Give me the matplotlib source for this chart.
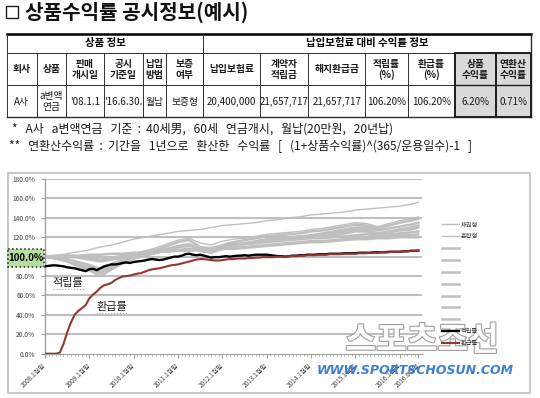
import matplotlib
matplotlib.use('Agg')
import matplotlib.pyplot as plt
from matplotlib.patches import Rectangle
import matplotlib.patheffects as pe

plt.rcParams['font.family'] = ['Noto Sans CJK KR', 'DejaVu Sans']

# ---------------- data ----------------
title = "상품수익률 공시정보(예시)"
group_headers = ["상품 정보", "납입보험료 대비 수익률 정보"]
col_headers = ["회사", "상품", "판매\n개시일", "공시\n기준일", "납입\n방법", "보증\n여부",
               "납입보험료", "계약자\n적립금", "해지환급금", "적립률\n(%)", "환급률\n(%)",
               "상품\n수익률", "연환산\n수익률"]
row_values = ["A사", "a변액\n연금", "'08.1.1", "'16.6.30.", "월납", "보증형",
              "20,400,000", "21,657,717", "21,657,717", "106.20%", "106.20%",
              "6.20%", "0.71%"]
footnotes = ["*   A사   a변액연금   기준  :  40세男,   60세   연금개시,   월납(20만원,   20년납)",
             "**   연환산수익률  :  기간을   1년으로   환산한   수익률   [   (1+상품수익률)^(365/운용일수)-1   ]"]

tick_months = [0, 12, 24, 36, 48, 60, 72, 84, 96, 101]
tick_labels = ["2008.1월말", "2009.1월말", "2010.1월말", "2011.1월말", "2012.1월말",
               "2013.1월말", "2014.1월말", "2015.1월말", "2016.1월말", "2016.6월말"]
y_ticks = [0, 20, 40, 60, 80, 100, 120, 140, 160, 180]

months = list(range(102))
accum_rate = [90, 90.5, 91, 91, 90.5, 90, 89, 88.5, 88, 87,
              86, 85, 87, 87.5, 86, 88, 90, 91, 92, 92,
              92.5, 93.5, 94, 93.5, 94.5, 95, 95.5, 96, 97, 97.5,
              97, 96.5, 97, 98, 99, 100, 100, 101, 102.5, 103,
              102, 101.5, 102, 101, 100, 99, 99.5, 99.5, 100, 100.5,
              100, 100.5, 101, 101, 101.5, 101, 101.5, 102, 102, 102,
              102, 101.5, 101, 100.5, 100.5, 100, 100.5, 101, 101, 101.5,
              101.5, 102, 102, 102, 102.5, 102.5, 102.5, 103, 103, 103,
              103, 103.5, 103.5, 103.5, 103.5, 104, 104, 104, 104, 104.5,
              104.5, 104.5, 104.5, 105, 105, 105, 105, 105.5, 105.5, 106,
              106, 106.2]
refund_rate = [0, 0, 0, 0, 1, 10, 22, 32, 40, 44,
               47, 50, 57, 61, 64, 68, 70.5, 71.5, 73, 76,
               78, 79.5, 80, 80.5, 81.5, 82.5, 83, 84.5, 86, 87,
               87.5, 88, 89, 90, 91, 91.5, 92, 93, 94, 95,
               96, 97, 97.5, 97.5, 97, 96.5, 96, 96, 96.5, 97,
               97.5, 97.5, 98, 98, 98, 98.5, 98.5, 99, 99, 99.5,
               99.5, 99.5, 99.5, 100, 100, 100, 100.5, 100.5, 100.5, 101,
               101, 101.5, 101.5, 101.5, 102, 102, 102, 102.5, 102.5, 102.5,
               102.5, 103, 103, 103, 103, 103.5, 103.5, 103.5, 104, 104,
               104, 104.5, 104.5, 104.5, 105, 105, 105, 105.5, 105.5, 106,
               106, 106.2]

q_months = [0, 3, 6, 9, 12, 15, 18, 21, 24, 27, 30, 33, 36, 39, 42, 45, 48, 51, 54, 57,
            60, 63, 66, 69, 72, 75, 78, 81, 84, 87, 90, 93, 96, 99, 101]
fund_1 = [100, 101, 103, 105, 107, 110, 112, 115, 118, 120, 122, 124, 126, 127, 128, 130, 132, 133, 134, 135,
          137, 138, 140, 141, 143, 144, 145, 146, 148, 149, 150, 151, 152, 154, 156]
fund_2 = [100, 99, 98, 95, 92, 88, 93, 98, 103, 106, 109, 113, 117, 119, 114, 112, 116, 118, 119, 121,
          123, 124, 125, 126, 128, 129, 131, 133, 135, 134, 131, 134, 137, 139, 141]
fund_3 = [100, 98, 96, 92, 88, 83, 90, 96, 101, 104, 107, 111, 115, 117, 110, 108, 112, 115, 117, 119,
          121, 122, 123, 124, 126, 127, 129, 131, 133, 132, 129, 132, 135, 137, 139]
fund_4 = [100, 99, 97, 94, 91, 87, 91, 95, 99, 102, 105, 108, 111, 113, 108, 107, 110, 113, 114, 116,
          118, 119, 120, 121, 122, 124, 126, 128, 130, 130, 127, 129, 131, 133, 135]
fund_5 = [100, 98, 95, 90, 86, 80, 87, 93, 98, 101, 104, 107, 110, 112, 106, 104, 108, 111, 113, 115,
          117, 118, 119, 120, 121, 122, 124, 126, 128, 128, 124, 126, 128, 130, 132]
fund_6 = [100, 99, 97, 93, 89, 84, 89, 94, 98, 101, 104, 107, 110, 112, 107, 106, 109, 111, 113, 114,
          116, 117, 118, 119, 120, 121, 122, 124, 126, 126, 123, 125, 127, 128, 130]
fund_7 = [100, 101, 101, 100, 99, 97, 99, 101, 103, 105, 106, 108, 110, 111, 109, 109, 111, 112, 113, 114,
          115, 116, 117, 118, 119, 119, 120, 121, 122, 123, 122, 123, 124, 125, 126]
fund_8 = [100, 100, 100, 99, 97, 95, 97, 99, 101, 103, 104, 106, 107, 108, 106, 106, 108, 109, 110, 111,
          112, 113, 114, 115, 116, 116, 117, 118, 119, 120, 120, 121, 122, 122, 123]
fund_9 = [100, 100, 101, 101, 102, 102, 103, 103, 104, 104, 105, 105, 106, 106, 107, 107, 108, 108, 109, 110,
          111, 112, 113, 114, 115, 115, 116, 117, 118, 118, 119, 119, 120, 120, 120]
funds = [fund_1, fund_2, fund_3, fund_4, fund_5, fund_6, fund_7, fund_8, fund_9]
fund_labels = ["채권형", "혼합형", " ", " ", " ", " ", " ", " ", " "]
series_labels = ["적립률", "환급률"]

# ---------------- figure ----------------
W, H = 540, 398
fig = plt.figure(figsize=(5.4, 3.98), dpi=100)
fig.patch.set_facecolor('white')


def fx(x):
    return x / W


def fy(y):
    return 1 - y / H


L, R, T, B = 45, 422, 179, 353.7
ax = fig.add_axes([fx(L), fy(B), (R - L) / W, (B - T) / H])
GRAY = '#BFBFBF'
handles = []
for i, f in enumerate(funds):
    lw = 1.0 if i < 2 else 1.8
    h, = ax.plot(q_months, f, color=GRAY, lw=lw, solid_joinstyle='round', zorder=2)
    handles.append(h)
hb, = ax.plot(months, accum_rate, color='black', lw=1.7, zorder=4)
hr, = ax.plot(months, refund_rate, color='#943634', lw=1.5, zorder=5)
handles += [hb, hr]

ax.set_xlim(0, 102)
ax.set_ylim(0, 180)
ax.set_yticks(y_ticks)
ax.set_yticklabels(["" if v == 100 else f"{v:.1f}%" for v in y_ticks], fontsize=4.8, color='#404040')
for v in y_ticks[1:]:
    ax.axhline(v, color=GRAY, lw=1.5, zorder=1)
ax.set_xticks(tick_months)
ax.set_xticklabels(tick_labels, rotation=45, ha='right', va='center', rotation_mode='anchor',
                   fontsize=4.6, color='#404040')
ax.set_xticks(months, minor=True)
ax.tick_params(axis='x', which='major', length=3, color='#A0A0A0', pad=5)
ax.tick_params(axis='x', which='minor', length=1.5, color='#A0A0A0')
ax.tick_params(axis='y', length=3, color='#A0A0A0', pad=4)
for s in ['top', 'right']:
    ax.spines[s].set_visible(False)
ax.spines['left'].set_color('#A0A0A0')
ax.spines['bottom'].set_color('#A0A0A0')
ax.spines['left'].set_linewidth(1.0)
ax.spines['bottom'].set_linewidth(0.8)
ax.patch.set_alpha(0)

ax.text(6.2, 73, series_labels[0], fontsize=8, ha='center', va='center', color='#202020')
ax.text(18.1, 48.4, series_labels[1], fontsize=8, ha='center', va='center', color='#202020')

leg = fig.legend(handles, fund_labels + series_labels, loc='upper left',
                 bbox_to_anchor=(fx(442), fy(220.5)), frameon=False, fontsize=4.5,
                 handlelength=2.7, handletextpad=0.3, labelspacing=0.62,
                 borderpad=0, borderaxespad=0)
for t in leg.get_texts():
    t.set_color('#404040')

# ---------------- overlay (table, texts) ----------------
ov = fig.add_axes([0, 0, 1, 1])
ov.set_xlim(0, W)
ov.set_ylim(H, 0)
ov.axis('off')
ov.patch.set_alpha(0)

# title
ov.add_patch(Rectangle((6, 6), 12, 12, fill=False, edgecolor='#202020', lw=1.0))
ov.text(25, 12.5, title, fontsize=14.5, fontweight='bold', ha='left', va='center', color='#111111')

# table
cols = [7, 36.7, 66, 104, 142.7, 165.7, 203.3, 260, 308.3, 365, 408.3, 455, 496, 531]
ys = [33.5, 52.7, 85, 117.3]
for j in range(11, 13):
    ov.add_patch(Rectangle((cols[j], ys[1]), cols[j + 1] - cols[j], ys[3] - ys[1],
                           facecolor='#D9D9D9', edgecolor='none', zorder=1))
ov.plot([cols[0], cols[-1]], [ys[0], ys[0]], color='black', lw=1.8, zorder=3)
ov.plot([cols[0], cols[-1]], [ys[1], ys[1]], color='#303030', lw=0.7, zorder=3)
ov.plot([cols[0], cols[-1]], [ys[2], ys[2]], color='#303030', lw=0.7, zorder=3)
ov.plot([cols[0], cols[-1]], [ys[3], ys[3]], color='#303030', lw=1.0, zorder=3)
ov.plot([cols[0], cols[0]], [ys[0], ys[3]], color='#303030', lw=0.7, zorder=3)
ov.plot([cols[-1], cols[-1]], [ys[0], ys[3]], color='#303030', lw=1.0, zorder=3)
ov.plot([cols[6], cols[6]], [ys[0], ys[3]], color='#303030', lw=0.7, zorder=3)
for c in cols[1:-1]:
    ov.plot([c, c], [ys[1], ys[3]], color='#303030', lw=0.7, zorder=3)
for j in range(11, 13):
    ov.add_patch(Rectangle((cols[j], ys[1]), cols[j + 1] - cols[j], ys[3] - ys[1],
                           facecolor='none', edgecolor='#202020', lw=1.4, zorder=4))
    ov.plot([cols[j], cols[j + 1]], [ys[2], ys[2]], color='#202020', lw=1.0, zorder=4)

ov.text((cols[0] + cols[6]) / 2, (ys[0] + ys[1]) / 2, group_headers[0], fontsize=7.5,
        fontweight='bold', ha='center', va='center')
ov.text((cols[6] + cols[-1]) / 2, (ys[0] + ys[1]) / 2, group_headers[1], fontsize=7.5,
        fontweight='bold', ha='center', va='center')
for j, (hd, val) in enumerate(zip(col_headers, row_values)):
    cx = (cols[j] + cols[j + 1]) / 2
    ov.text(cx, (ys[1] + ys[2]) / 2 + 0.5, hd, fontsize=7, fontweight='bold', ha='center',
            va='center', linespacing=1.1, color='#1a1a1a')
    ov.text(cx, (ys[2] + ys[3]) / 2 + 0.5, val, fontsize=7, ha='center', va='center',
            linespacing=1.1, color='#1a1a1a')

# footnotes
ov.text(12, 129, footnotes[0], fontsize=8.6, ha='left', va='center', color='#1a1a1a')
ov.text(9, 146, footnotes[1], fontsize=8.6, ha='left', va='center', color='#1a1a1a')

# chart frame
ov.add_patch(Rectangle((8, 172.5), 522, 220, fill=False, edgecolor='#BFBFBF', lw=1.2))

# 100% box
ov.add_patch(Rectangle((8, 249), 36, 17.5, facecolor='#B5DFA0', edgecolor='#202020',
                       ls=':', lw=1.1, zorder=6))
ov.text(26, 257.8, "100.0%", fontsize=7, fontweight='bold', ha='center', va='center', zorder=7)

# spell-check style underline under the annotations
ov.plot([53, 84], [289, 289], color='#E09A3A', ls=':', lw=0.8)
ov.plot([96, 128], [313, 313], color='#E09A3A', ls=':', lw=0.8)

# watermark
ov.text(422, 341, "스포츠조선", fontsize=24, fontweight='black', ha='center', va='center',
        color='white', alpha=0.95, zorder=8,
        path_effects=[pe.withStroke(linewidth=1.6, foreground='#9A9A9A')])
ov.text(415, 370, "WWW.SPORTSCHOSUN.COM", fontsize=9, fontweight='bold', fontstyle='italic',
        family='DejaVu Sans', ha='center', va='center', color='#3C7FD6', zorder=8)

fig.savefig('out.png', dpi=100)
